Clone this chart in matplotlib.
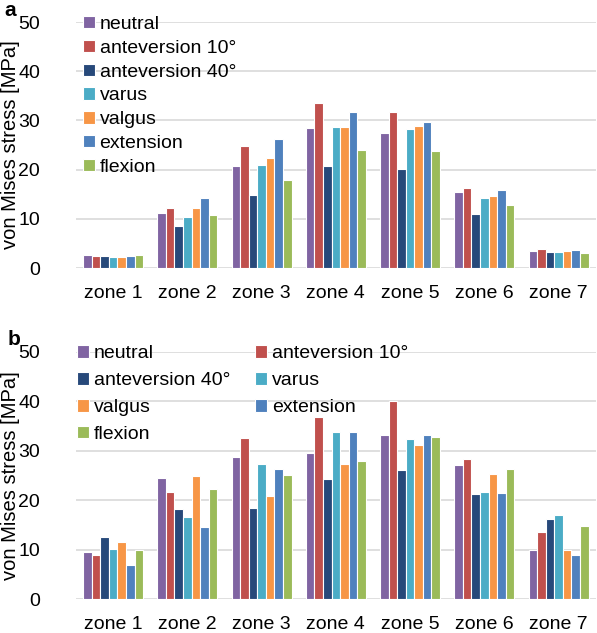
import numpy as np
import matplotlib
matplotlib.use('Agg')
import matplotlib.pyplot as plt

plt.rcParams['font.family'] = ['Liberation Sans', 'DejaVu Sans']

zones = ['zone 1', 'zone 2', 'zone 3', 'zone 4', 'zone 5', 'zone 6', 'zone 7']
cases = ['neutral', 'anteversion 10°', 'anteversion 40°', 'varus', 'valgus', 'extension', 'flexion']
colors = ['#8064A2', '#C0504D', '#27497A', '#4BACC6', '#F79646', '#4F81BD', '#9BBB59']

# panel a, one list per case, zone 1..7
a_neutral = [2.6, 11.2, 20.7, 28.5, 27.4, 15.4, 3.5]
a_ante10 = [2.4, 12.3, 24.8, 33.6, 31.8, 16.2, 3.9]
a_ante40 = [2.4, 8.5, 14.9, 20.7, 20.1, 11.0, 3.2]
a_varus = [2.2, 10.3, 21.0, 28.7, 28.3, 14.2, 3.2]
a_valgus = [2.2, 12.3, 22.3, 28.7, 28.9, 14.6, 3.5]
a_extension = [2.5, 14.2, 26.2, 31.8, 29.7, 15.8, 3.7]
a_flexion = [2.7, 10.8, 17.9, 23.9, 23.7, 12.8, 3.1]

# panel b
b_neutral = [9.6, 24.5, 28.8, 29.6, 33.2, 27.1, 9.9]
b_ante10 = [8.9, 21.7, 32.5, 36.7, 40.1, 28.4, 13.6]
b_ante40 = [12.5, 18.1, 18.3, 24.2, 26.0, 21.3, 16.2]
b_varus = [10.2, 16.5, 27.2, 33.8, 32.4, 21.7, 17.0]
b_valgus = [11.5, 24.9, 20.8, 27.3, 31.2, 25.3, 9.9]
b_extension = [6.8, 14.6, 26.3, 33.8, 33.1, 21.5, 8.8]
b_flexion = [9.9, 22.3, 25.1, 28.0, 32.8, 26.3, 14.8]

data_a = [a_neutral, a_ante10, a_ante40, a_varus, a_valgus, a_extension, a_flexion]
data_b = [b_neutral, b_ante10, b_ante40, b_varus, b_valgus, b_extension, b_flexion]

fig = plt.figure(figsize=(5.97, 6.33), dpi=100)
ax_a = fig.add_axes([0.1273, 0.5766, 0.8704, 0.3886])
ax_b = fig.add_axes([0.1273, 0.0537, 0.8704, 0.3907])

x = np.arange(len(zones))
w = 0.808 / len(cases)


def draw(ax, data):
    bars = []
    for i, vals in enumerate(data):
        off = (i - (len(cases) - 1) / 2) * w
        b = ax.bar(x + off, vals, w, color=colors[i], edgecolor='white',
                   linewidth=0.8, label=cases[i], zorder=3)
        bars.append(b)
    ax.set_xlim(-0.5, len(zones) - 0.5)
    ax.set_ylim(0, 50)
    ax.set_yticks(np.arange(0, 51, 10))
    ax.set_xticks(x)
    ax.set_xticklabels(zones, fontsize=14)
    ax.tick_params(axis='y', length=0, pad=26, labelsize=14)
    ax.tick_params(axis='x', length=0, pad=12)
    ax.grid(axis='y', color='#D9D9D9', linewidth=1.2, zorder=0)
    ax.set_axisbelow(True)
    for s in ax.spines.values():
        s.set_visible(False)
    ax.set_ylabel('von Mises stress [MPa]', fontsize=14.5)
    ax.yaxis.set_label_coords(-0.108, 0.5)
    return bars


bars_a = draw(ax_a, data_a)
bars_b = draw(ax_b, data_b)

ax_a.legend(loc='upper left', bbox_to_anchor=(0.0135, 1.025), frameon=False,
            fontsize=14, borderpad=0, borderaxespad=0, labelspacing=0.35,
            handlelength=0.6, handleheight=0.6, handletextpad=0.25)

order = [0, 2, 4, 6, 1, 3, 5]
ax_b.legend([bars_b[i] for i in order], [cases[i] for i in order],
            ncol=2, loc='upper left', bbox_to_anchor=(0.002, 1.026), frameon=False,
            fontsize=14, borderpad=0, borderaxespad=0, labelspacing=0.51,
            handlelength=0.6, handleheight=0.6, handletextpad=0.25,
            columnspacing=1.3)

fig.text(0.008, 0.998, 'a', fontsize=15, fontweight='bold', va='top', ha='left')
fig.text(0.012, 0.478, 'b', fontsize=15, fontweight='bold', va='top', ha='left')

fig.savefig('out.png', dpi=100)
